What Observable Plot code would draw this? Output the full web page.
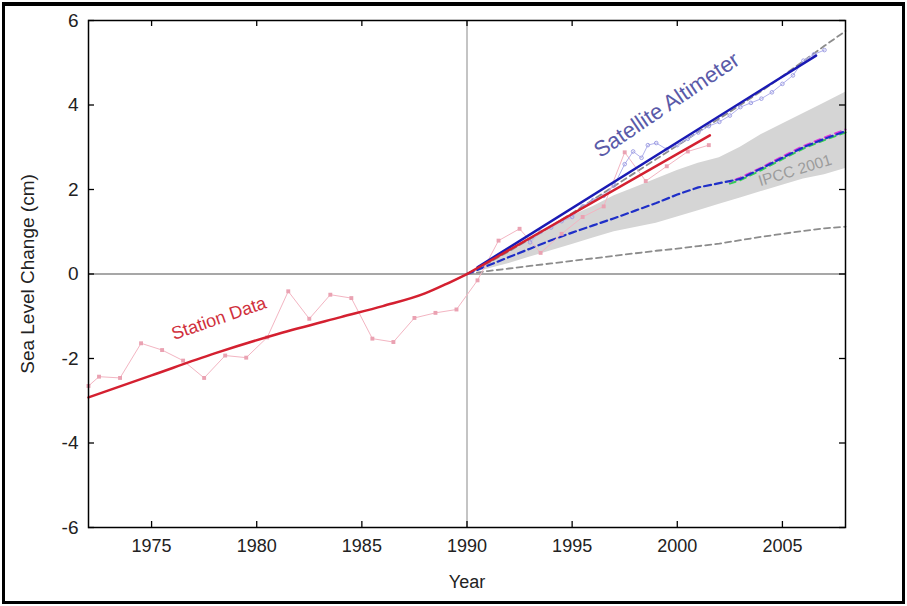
<!DOCTYPE html>
<html><head><meta charset="utf-8">
<script src="https://cdn.jsdelivr.net/npm/d3@7"></script>
<script src="https://cdn.jsdelivr.net/npm/@observablehq/plot@0.6"></script>
<style>
body{margin:0;background:#fff;}
#wrap{position:relative;width:907px;height:606px;overflow:hidden;}
#frame{position:absolute;left:2px;top:2px;width:903px;height:602px;box-sizing:border-box;border:3px solid #000;border-top-width:4px;pointer-events:none;}
</style></head><body><div id="wrap"><div id="frame"></div></div>
<script>
// Tick labels
const xTicks = [1975, 1980, 1985, 1990, 1995, 2000, 2005];
const yTicks = [-6, -4, -2, 0, 2, 4, 6];

// Smoothed station data (tide gauges) 1972-1990
const stationSmoothYears = [1972, 1975, 1978, 1981, 1984, 1986, 1988, 1989, 1990];
const stationSmoothVals  = [-2.92, -2.40, -1.88, -1.42, -1.02, -0.76, -0.46, -0.24, 0.0];

// Station trend after 1990
const stationTrendYears = [1990, 2001.55];
const stationTrendVals  = [0.0, 3.28];

// Annual station data points
const stationYears = [1972.0, 1972.5, 1973.5, 1974.5, 1975.5, 1976.5, 1977.5, 1978.5, 1979.5, 1980.5, 1981.5, 1982.5, 1983.5, 1984.5, 1985.5, 1986.5, 1987.5, 1988.5, 1989.5, 1990.5, 1991.5, 1992.5, 1993.5, 1994.5, 1995.5, 1996.5, 1997.5, 1998.5, 1999.5, 2000.5, 2001.5];
const stationVals  = [-2.65, -2.43, -2.46, -1.64, -1.80, -2.05, -2.46, -1.93, -1.98, -1.50, -0.41, -1.06, -0.49, -0.57, -1.53, -1.61, -1.04, -0.92, -0.84, -0.15, 0.79, 1.07, 0.50, 0.95, 1.35, 1.60, 2.88, 2.20, 2.55, 2.90, 3.05];

// Satellite altimeter observations
const satYears = [1993.0, 1993.5, 1994.0, 1994.5, 1995.0, 1995.5, 1996.0, 1996.5, 1997.0, 1997.5, 1997.9, 1998.3, 1998.6, 1999.0, 1999.5, 2000.0, 2000.5, 2001.0, 2001.5, 2002.0, 2002.5, 2003.0, 2003.5, 2004.0, 2004.5, 2005.0, 2005.5, 2006.0, 2006.5, 2007.0];
const satVals  = [0.75, 1.00, 1.10, 1.25, 1.35, 1.60, 1.75, 1.85, 2.10, 2.60, 2.90, 2.75, 3.05, 3.10, 2.95, 3.05, 3.20, 3.35, 3.50, 3.60, 3.75, 3.95, 4.05, 4.15, 4.30, 4.50, 4.70, 5.05, 5.20, 5.30];

// Satellite trend
const satTrendYears = [1990.5, 2006.6];
const satTrendVals  = [0.16, 5.17];

// IPCC 2001 projections
const ipccYears = [1990, 1991, 1992, 1993, 1994, 1995, 1996, 1997, 1998, 1999, 2000, 2001, 2002, 2003, 2004, 2005, 2006, 2007, 2008];
const ipccLow   = [0, 0.12, 0.25, 0.40, 0.55, 0.70, 0.85, 1.00, 1.10, 1.20, 1.35, 1.50, 1.65, 1.80, 1.95, 2.10, 2.25, 2.35, 2.50];
const ipccHigh  = [0, 0.28, 0.55, 0.85, 1.12, 1.38, 1.60, 1.85, 2.05, 2.25, 2.45, 2.62, 2.75, 3.00, 3.30, 3.55, 3.80, 4.05, 4.30];
const ipccMid   = [0, 0.20, 0.40, 0.60, 0.80, 0.98, 1.15, 1.32, 1.50, 1.68, 1.88, 2.05, 2.15, 2.25, 2.50, 2.75, 3.00, 3.20, 3.38];
const ipccMinDash = [0, 0.07, 0.13, 0.19, 0.25, 0.31, 0.37, 0.43, 0.49, 0.55, 0.60, 0.66, 0.72, 0.80, 0.88, 0.95, 1.02, 1.08, 1.12];
const ipccMaxDash = [0, 0.26, 0.54, 0.83, 1.13, 1.44, 1.76, 2.08, 2.40, 2.72, 3.04, 3.36, 3.68, 4.00, 4.33, 4.68, 5.04, 5.40, 5.75];
// other model runs near the mid line (late years)
const modelYears = [2002.5, 2003, 2004, 2005, 2006, 2007, 2008];
const modelA = [2.18, 2.28, 2.52, 2.78, 3.03, 3.23, 3.42];
const modelB = [2.14, 2.22, 2.46, 2.72, 2.97, 3.17, 3.35];

const labels = [
  {x: 1978.2, y: -1.05, text: "Station Data", rotate: -19, fill: "#d0303c", size: 18},
  {x: 1999.5, y: 4.0, text: "Satellite Altimeter", rotate: -34, fill: "#5a5aa8", size: 22},
  {x: 2005.6, y: 2.45, text: "IPCC 2001", rotate: -17, fill: "#9c9c9c", size: 15.5}
];

const font = "'Liberation Sans', Arial, Helvetica, sans-serif";
const xDomain = [1972, 2008], yDomain = [-6, 6];
const plotW = 907 - 88 - 62, plotH = 606 - 20 - 79, tickPx = 6;
// tick length converted to data units of each scale
const tyLen = tickPx * (yDomain[1] - yDomain[0]) / plotH;
const txLen = tickPx * (xDomain[1] - xDomain[0]) / plotW;
const tickStyle = {stroke: "#000", strokeWidth: 1.3};

const chart = Plot.plot({
  width: 907, height: 606,
  marginLeft: 88, marginRight: 62, marginTop: 20, marginBottom: 79,
  style: {fontFamily: font, fontSize: "18px", color: "#222", background: "transparent"},
  x: {domain: xDomain},
  y: {domain: yDomain},
  marks: [
    Plot.areaY(ipccYears, {x: ipccYears, y1: ipccLow, y2: ipccHigh, fill: "#d5d5d5"}),
    Plot.ruleX([1990], {stroke: "#c4c4c4", strokeWidth: 2}),
    Plot.ruleY([0], {stroke: "#8a8a8a", strokeWidth: 1.3}),
    Plot.line(ipccYears, {x: ipccYears, y: ipccMinDash, stroke: "#8c8c8c", strokeWidth: 1.8, strokeDasharray: "6,4"}),
    Plot.line(ipccYears, {x: ipccYears, y: ipccMaxDash, stroke: "#8c8c8c", strokeWidth: 1.8, strokeDasharray: "6,4"}),
    Plot.line(modelYears, {x: modelYears, y: modelB, stroke: "#33cc55", strokeWidth: 2, strokeDasharray: "6,5"}),
    Plot.line(modelYears, {x: modelYears, y: modelA, stroke: "#dd33dd", strokeWidth: 2, strokeDasharray: "6,5", strokeDashoffset: 5}),
    Plot.line(ipccYears, {x: ipccYears, y: ipccMid, stroke: "#1f2fc8", strokeWidth: 2.2, strokeDasharray: "7,4"}),
    Plot.line(stationYears, {x: stationYears, y: stationVals, stroke: "#f3b5c2", strokeWidth: 1}),
    Plot.dot(stationYears, {x: stationYears, y: stationVals, fill: "#eaa2b2", r: 2.2, symbol: "square"}),
    Plot.line(satYears, {x: satYears, y: satVals, stroke: "#b0b0ec", strokeWidth: 1}),
    Plot.dot(satYears, {x: satYears, y: satVals, stroke: "#a0a0e4", r: 1.8, strokeWidth: 1}),
    Plot.line(satTrendYears, {x: satTrendYears, y: satTrendVals, stroke: "#1a1ab4", strokeWidth: 2.5}),
    Plot.line(stationSmoothYears, {x: stationSmoothYears, y: stationSmoothVals, stroke: "#d42030", strokeWidth: 2.5, curve: "monotone-x"}),
    Plot.line(stationTrendYears, {x: stationTrendYears, y: stationTrendVals, stroke: "#d42030", strokeWidth: 2.5}),
    Plot.text(labels, {x: "x", y: "y", text: "text", rotate: "rotate", fill: "fill", fontSize: d => d.size, fontFamily: font}),
    Plot.frame({stroke: "#000", strokeWidth: 1.5}),
    // inward ticks on all four sides
    Plot.ruleX(xTicks, {x: d => d, y1: yDomain[0], y2: yDomain[0] + tyLen, ...tickStyle}),
    Plot.ruleX(xTicks, {x: d => d, y1: yDomain[1], y2: yDomain[1] - tyLen, ...tickStyle}),
    Plot.ruleY(yTicks, {y: d => d, x1: xDomain[0], x2: xDomain[0] + txLen, ...tickStyle}),
    Plot.ruleY(yTicks, {y: d => d, x1: xDomain[1], x2: xDomain[1] - txLen, ...tickStyle}),
    // tick labels and titles
    Plot.axisX({ticks: xTicks, tickSize: 0, tickPadding: 12, tickFormat: d => String(d), label: "Year", labelAnchor: "center", labelOffset: 60, labelArrow: "none", fill: "#222"}),
    Plot.axisY({ticks: yTicks, tickSize: 0, tickPadding: 10, tickFormat: d => String(d), label: "Sea Level Change (cm)", labelAnchor: "center", labelOffset: 68, labelArrow: "none", fill: "#222", fontSize: 19})
  ]
});
chart.style.position = "absolute";
chart.style.left = "0px";
chart.style.top = "0px";
document.getElementById("wrap").prepend(chart);
</script>
</body></html>
